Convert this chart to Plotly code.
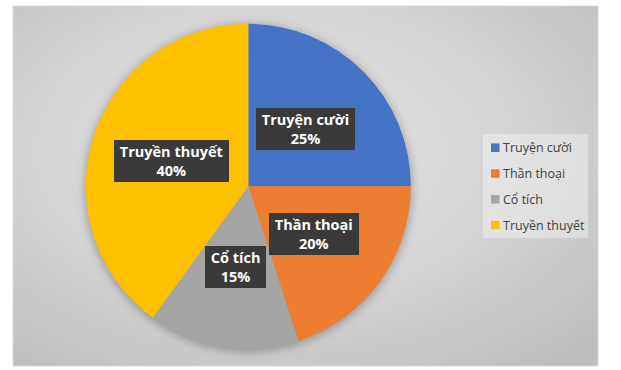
import base64
import math
import plotly.graph_objects as go

# ---- data ----
categories = ["Truyện cười", "Thần thoại", "Cổ tích", "Truyền thuyết"]
values = [25, 20, 15, 40]
colors = ["#4472C4", "#ED7D31", "#A5A5A5", "#FFC000"]

# ---- geometry (pixels) ----
W, H = 621, 370
AREA_X0, AREA_Y0, AREA_X1, AREA_Y1 = 13, 6, 598, 366
PIE_CX, PIE_CY, PIE_R = 248.3, 186.3, 162.5
LABEL_FRAC = 0.5
LEG_X0, LEG_Y0, LEG_X1, LEG_Y1 = 483, 134, 588, 238
LEG_ROW0, LEG_STEP = 147.7, 25.8
LEG_SQ = 8.5
LEG_SQ_X = 491
LEG_TXT_X = 501

LABEL_FONT = "Open Sans"


def px_x(x):
    return x / W


def px_y(y):
    return 1 - y / H


# background (radial gradient + pie shadow) as svg image
aw, ah = AREA_X1 - AREA_X0, AREA_Y1 - AREA_Y0
scx, scy = PIE_CX - AREA_X0, PIE_CY - AREA_Y0
svg = f'''<svg xmlns="http://www.w3.org/2000/svg" width="{aw}" height="{ah}" viewBox="0 0 {aw} {ah}">
<defs>
<radialGradient id="g" cx="45%" cy="40%" r="75%">
<stop offset="0" stop-color="#E2E2E2"/>
<stop offset="0.55" stop-color="#D4D4D4"/>
<stop offset="1" stop-color="#BEBEBE"/>
</radialGradient>
<filter id="b" x="-20%" y="-20%" width="140%" height="140%"><feGaussianBlur stdDeviation="5"/></filter>
</defs>
<rect x="0" y="0" width="{aw}" height="{ah}" fill="url(#g)"/>
<circle cx="{scx}" cy="{scy + 2}" r="{PIE_R + 1}" fill="#000" fill-opacity="0.28" filter="url(#b)"/>
</svg>'''
svg_uri = "data:image/svg+xml;base64," + base64.b64encode(svg.encode()).decode()

fig = go.Figure()
fig.add_trace(go.Pie(
    labels=categories,
    values=values,
    marker=dict(colors=colors, line=dict(width=0)),
    sort=False,
    direction="clockwise",
    rotation=0,
    textinfo="none",
    hoverinfo="label+percent",
    showlegend=False,
    domain=dict(
        x=[px_x(PIE_CX - PIE_R), px_x(PIE_CX + PIE_R)],
        y=[px_y(PIE_CY + PIE_R), px_y(PIE_CY - PIE_R)],
    ),
))

annotations = []
shapes = []
total = sum(values)
cum = 0
for name, v in zip(categories, values):
    mid = (cum + v / 2) / total * 2 * math.pi
    cum += v
    lx = PIE_CX + PIE_R * LABEL_FRAC * math.sin(mid)
    ly = PIE_CY - PIE_R * LABEL_FRAC * math.cos(mid)
    txt = f"<b>&nbsp;{name}&nbsp;<br>{round(v / total * 100)}%</b>"
    annotations.append(dict(xref="paper", yref="paper", x=px_x(lx), y=px_y(ly),
                            xanchor="center", yanchor="middle", showarrow=False,
                            text=txt, borderpad=2, align="center",
                            font=dict(family=LABEL_FONT, size=14.5, color="white"),
                            bgcolor="#3A3A3A", bordercolor="#333333", borderwidth=0))

# chart area border
shapes.append(dict(type="rect", xref="paper", yref="paper",
                   x0=px_x(AREA_X0), x1=px_x(AREA_X1), y0=px_y(AREA_Y1), y1=px_y(AREA_Y0),
                   line=dict(color="#D9D9D9", width=1), fillcolor="rgba(0,0,0,0)", layer="below"))
# legend box
shapes.append(dict(type="rect", xref="paper", yref="paper",
                   x0=px_x(LEG_X0), x1=px_x(LEG_X1), y0=px_y(LEG_Y1), y1=px_y(LEG_Y0),
                   line=dict(width=0), fillcolor="rgba(255,255,255,0.35)", layer="below"))
for i, (name, c) in enumerate(zip(categories, colors)):
    yc = LEG_ROW0 + i * LEG_STEP
    shapes.append(dict(type="rect", xref="paper", yref="paper",
                       x0=px_x(LEG_SQ_X), x1=px_x(LEG_SQ_X + LEG_SQ),
                       y0=px_y(yc + LEG_SQ / 2), y1=px_y(yc - LEG_SQ / 2),
                       line=dict(width=0), fillcolor=c))
    annotations.append(dict(xref="paper", yref="paper", x=px_x(LEG_TXT_X), y=px_y(yc),
                            xanchor="left", yanchor="middle", showarrow=False, text=name,
                            font=dict(family="Open Sans", size=12.5, color="#404040")))

fig.update_layout(
    width=W, height=H,
    margin=dict(l=0, r=0, t=0, b=0),
    paper_bgcolor="white",
    plot_bgcolor="white",
    showlegend=False,
    annotations=annotations,
    shapes=shapes,
    images=[dict(source=svg_uri, xref="paper", yref="paper",
                 x=px_x(AREA_X0), y=px_y(AREA_Y0),
                 sizex=px_x(AREA_X1) - px_x(AREA_X0), sizey=px_y(AREA_Y0) - px_y(AREA_Y1),
                 sizing="stretch", xanchor="left", yanchor="top", layer="below")],
)

fig.write_html("out.html", config={"displayModeBar": False},
               post_script="document.body.style.margin='0';document.body.style.overflow='hidden';")
